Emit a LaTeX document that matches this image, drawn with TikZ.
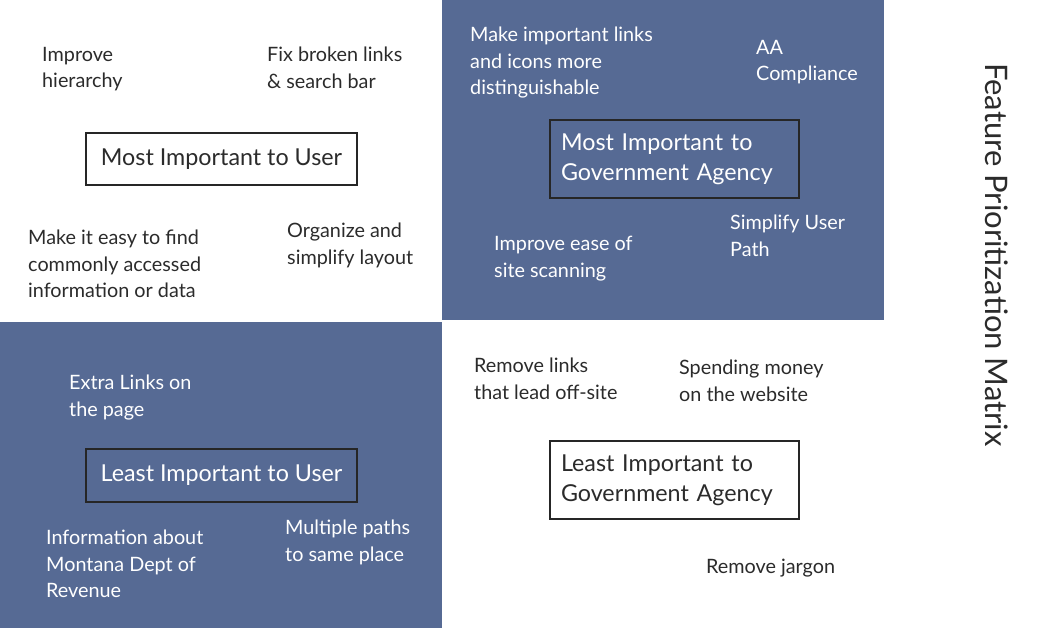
\documentclass[tikz,border=0pt]{standalone}
\usepackage{fontspec}
\setmainfont{Lato}
\usepackage{xcolor}
\usepackage{tikz}
\usetikzlibrary{positioning}

\definecolor{quadblue}{HTML}{566A94}
\definecolor{inkgray}{HTML}{2B2B2B}

\begin{document}
\begin{tikzpicture}[x=1pt, y=-1pt,
    note/.style={anchor=north west, inner sep=0pt, align=left, font=\fontsize{19.8}{26.5}\selectfont, text=inkgray},
    wnote/.style={note, text=white},
    qbox/.style={rectangle, draw=black!85, line width=1.2pt, inner sep=0pt, align=left, font=\fontsize{23.3}{30}\selectfont, text=inkgray},
    wbox/.style={qbox, text=white}]

    \useasboundingbox (0,0) rectangle (1058,628);

    % quadrants
    \fill[quadblue] (442,0) rectangle (884,320);
    \fill[quadblue] (0,322) rectangle (442,628);

    % top left
    \node[note] (u1) at (42,47) {Improve\\hierarchy};
    \node[note] (u2) at (267,47) {Fix broken links\\\& search bar};
    \node[qbox, minimum width=271pt, minimum height=52pt] (mu) at (221.5,159) {Most Important to User};
    \node[note] (u3) at (28,230) {Make it easy to find\\commonly accessed\\information or data};
    \node[note] (u4) at (287,223) {Organize and\\simplify layout};

    % top right
    \node[wnote] (g1) at (470,27) {Make important links\\and icons more\\distinguishable};
    \node[wnote] (g2) at (756,40) {AA\\Compliance};
    \node[wbox, minimum width=249pt, minimum height=78pt, text width=227pt] (mg) at (674.5,159) {Most Important to\\Government Agency};
    \node[wnote] (g3) at (730,215) {Simplify User\\Path};
    \node[wnote] (g4) at (494,236) {Improve ease of\\site scanning};

    % bottom left
    \node[wnote] (l1) at (69,375) {Extra Links on\\the page};
    \node[wbox, minimum width=271pt, minimum height=53pt] (lu) at (221.5,475.5) {Least Important to User};
    \node[wnote] (l2) at (46,530) {Information about\\Montana Dept of\\Revenue};
    \node[wnote] (l3) at (285,520) {Multiple paths\\to same place};

    % bottom right
    \node[note] (r1) at (474,358) {Remove links\\that lead off-site};
    \node[note] (r2) at (679,360) {Spending money\\on the website};
    \node[qbox, minimum width=249pt, minimum height=78pt, text width=227pt] (lg) at (674.5,480) {Least Important to\\Government Agency};
    \node[note] (r3) at (706,559) {Remove jargon};

    % title
    \node[rotate=-90, inner sep=0pt, font=\fontsize{31}{36}\selectfont, text=inkgray] (title) at (997,255) {Feature Prioritization Matrix};

\end{tikzpicture}
\end{document}
